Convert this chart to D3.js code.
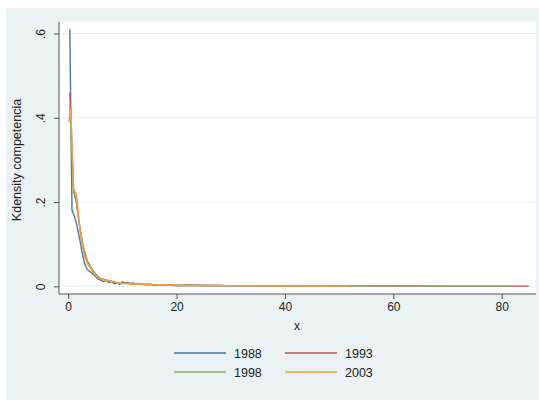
<!DOCTYPE html>
<html>
<head>
<meta charset="utf-8">
<script src="https://cdn.jsdelivr.net/npm/d3@7"></script>
<style>
  html, body { margin: 0; padding: 0; background: #ffffff; }
  svg { display: block; font-family: "Liberation Sans", Arial, sans-serif; }
</style>
</head>
<body>
<svg id="chart" width="539" height="400"></svg>
<script>
// Kernel density of "competencia" by survey year
const years = ["1988", "1993", "1998", "2003"];
const colors = ["#4878a8", "#c0504d", "#8cab6a", "#f4a040"];

const x1988 = [0.3, 0.7, 1.0, 1.5, 2.0, 2.5, 3.0, 3.5, 4.0, 4.5, 5, 5.5, 6, 6.5, 7, 7.5, 8, 8.5, 9, 9.5, 10, 10.5, 11, 11.5, 12, 12.5, 13, 14, 15, 16, 18, 20, 22, 25, 28, 30, 35, 40, 45, 50, 52];
const y1988 = [0.61, 0.18, 0.172, 0.15, 0.12, 0.085, 0.055, 0.04, 0.035, 0.03, 0.024, 0.017, 0.015, 0.011, 0.014, 0.009, 0.011, 0.006, 0.008, 0.005, 0.011, 0.007, 0.009, 0.005, 0.008, 0.004, 0.006, 0.004, 0.005, 0.003, 0.004, 0.002, 0.003, 0.002, 0.002, 0.001, 0.0015, 0.001, 0.001, 0.0008, 0.0005];

const x1993 = [0.3, 0.6, 1.0, 1.5, 2.0, 2.5, 3.0, 3.5, 4.0, 4.5, 5, 5.5, 6, 6.5, 7, 7.5, 8, 8.5, 9, 10, 11, 12, 13, 14, 16, 18, 20, 25, 30, 35, 40, 50, 60, 70, 80, 85];
const y1993 = [0.46, 0.36, 0.225, 0.2, 0.15, 0.11, 0.08, 0.06, 0.048, 0.038, 0.03, 0.022, 0.018, 0.016, 0.015, 0.012, 0.012, 0.01, 0.008, 0.007, 0.008, 0.006, 0.005, 0.005, 0.004, 0.003, 0.002, 0.002, 0.0015, 0.001, 0.001, 0.001, 0.0008, 0.0005, 0.0005, 0.0003];

const x1998 = [0.3, 0.6, 1.0, 1.5, 2.0, 2.5, 3.0, 3.5, 4.0, 4.5, 5, 5.5, 6, 6.5, 7, 7.5, 8, 9, 10, 11, 12, 13, 14, 16, 18, 20, 25, 30, 35, 40, 50, 60, 70, 82];
const y1998 = [0.43, 0.34, 0.225, 0.205, 0.155, 0.115, 0.085, 0.062, 0.05, 0.039, 0.03, 0.024, 0.019, 0.017, 0.014, 0.013, 0.011, 0.009, 0.008, 0.006, 0.007, 0.005, 0.004, 0.004, 0.003, 0.002, 0.002, 0.0015, 0.001, 0.001, 0.0008, 0.001, 0.0005, 0.0004];

const x2003 = [0.1, 0.5, 1.0, 1.5, 1.7, 2.0, 2.5, 3.0, 3.5, 4.0, 4.5, 5, 5.5, 6, 6.5, 7, 7.5, 8, 8.5, 9, 9.5, 10, 11, 12, 13, 14, 16, 18, 20, 22, 25, 30, 35, 40, 45, 52];
const y2003 = [0.39, 0.42, 0.23, 0.22, 0.2, 0.155, 0.105, 0.072, 0.055, 0.045, 0.035, 0.027, 0.021, 0.017, 0.016, 0.013, 0.014, 0.010, 0.012, 0.007, 0.009, 0.006, 0.007, 0.005, 0.006, 0.004, 0.004, 0.003, 0.003, 0.002, 0.002, 0.0015, 0.001, 0.001, 0.0008, 0.0005];

const seriesX = [x1988, x1993, x1998, x2003];
const seriesY = [y1988, y1993, y1998, y2003];

const xTicks = [0, 20, 40, 60, 80];
const yTicks = [0, 0.2, 0.4, 0.6];
const yTickLabels = ["0", ".2", ".4", ".6"];

const svg = d3.select("#chart");

// outer graph region
svg.append("rect").attr("x", 6).attr("y", 8).attr("width", 533).attr("height", 392).attr("fill", "#eaf2f3");

// plot region
const plot = { left: 59, top: 22, right: 536, bottom: 294 };
svg.append("rect")
  .attr("x", plot.left).attr("y", plot.top)
  .attr("width", plot.right - plot.left).attr("height", plot.bottom - plot.top)
  .attr("fill", "#ffffff");

const x = d3.scaleLinear().domain([0, 80]).range([68.2, 501.7]);
const y = d3.scaleLinear().domain([0, 0.6]).range([286.3, 33.5]);

// horizontal grid
svg.append("g").selectAll("line").data(yTicks).join("line")
  .attr("x1", plot.left + 1).attr("x2", plot.right)
  .attr("y1", d => y(d)).attr("y2", d => y(d))
  .attr("stroke", "#e6eff1").attr("stroke-width", 1);

// density curves
const line = d3.line().x(d => x(d[0])).y(d => y(d[1]));
const curves = svg.append("g").attr("fill", "none").attr("stroke-width", 1.4).attr("stroke-linejoin", "round");
seriesX.forEach((xs, i) => {
  const pts = xs.map((v, j) => [v, seriesY[i][j]]);
  curves.append("path").datum(pts).attr("d", line).attr("stroke", colors[i]);
});

// y axis
const yAxis = d3.axisLeft(y).tickValues(yTicks).tickSize(5).tickPadding(0)
  .tickFormat((d, i) => yTickLabels[i]);
const gy = svg.append("g").attr("transform", `translate(${plot.left},0)`).call(yAxis);
gy.select(".domain").attr("d", `M0,${plot.top}V${plot.bottom}`).attr("stroke", "#555");
gy.selectAll(".tick line").attr("stroke", "#555");
gy.selectAll(".tick text")
  .attr("x", 0).attr("y", 0)
  .attr("transform", "translate(-14,0) rotate(-90)")
  .attr("text-anchor", "middle").attr("dy", "0")
  .attr("font-size", 12).attr("fill", "#222");

// x axis
const xAxis = d3.axisBottom(x).tickValues(xTicks).tickSize(5).tickPadding(3);
const gx = svg.append("g").attr("transform", `translate(0,${plot.bottom})`).call(xAxis);
gx.select(".domain").attr("d", `M${plot.left},0H${plot.right}`).attr("stroke", "#555");
gx.selectAll(".tick line").attr("stroke", "#555");
gx.selectAll(".tick text").attr("font-size", 12).attr("fill", "#222");

// axis titles
svg.append("text").attr("x", 297).attr("y", 330).attr("text-anchor", "middle")
  .attr("font-size", 12).attr("fill", "#222").text("x");
svg.append("text").attr("transform", "translate(21,160) rotate(-90)").attr("text-anchor", "middle")
  .attr("font-size", 12.5).attr("fill", "#222").text("Kdensity competencia");

// legend
const legendPos = [[174, 353], [285, 353], [174, 372], [285, 372]];
const legend = svg.append("g");
years.forEach((yr, i) => {
  const [lx, ly] = legendPos[i];
  legend.append("line").attr("x1", lx).attr("x2", lx + 52).attr("y1", ly).attr("y2", ly)
    .attr("stroke", colors[i]).attr("stroke-width", 1.4);
  legend.append("text").attr("x", lx + 60).attr("y", ly + 4.5)
    .attr("font-size", 12.5).attr("fill", "#222").text(yr);
});
</script>
</body>
</html>
